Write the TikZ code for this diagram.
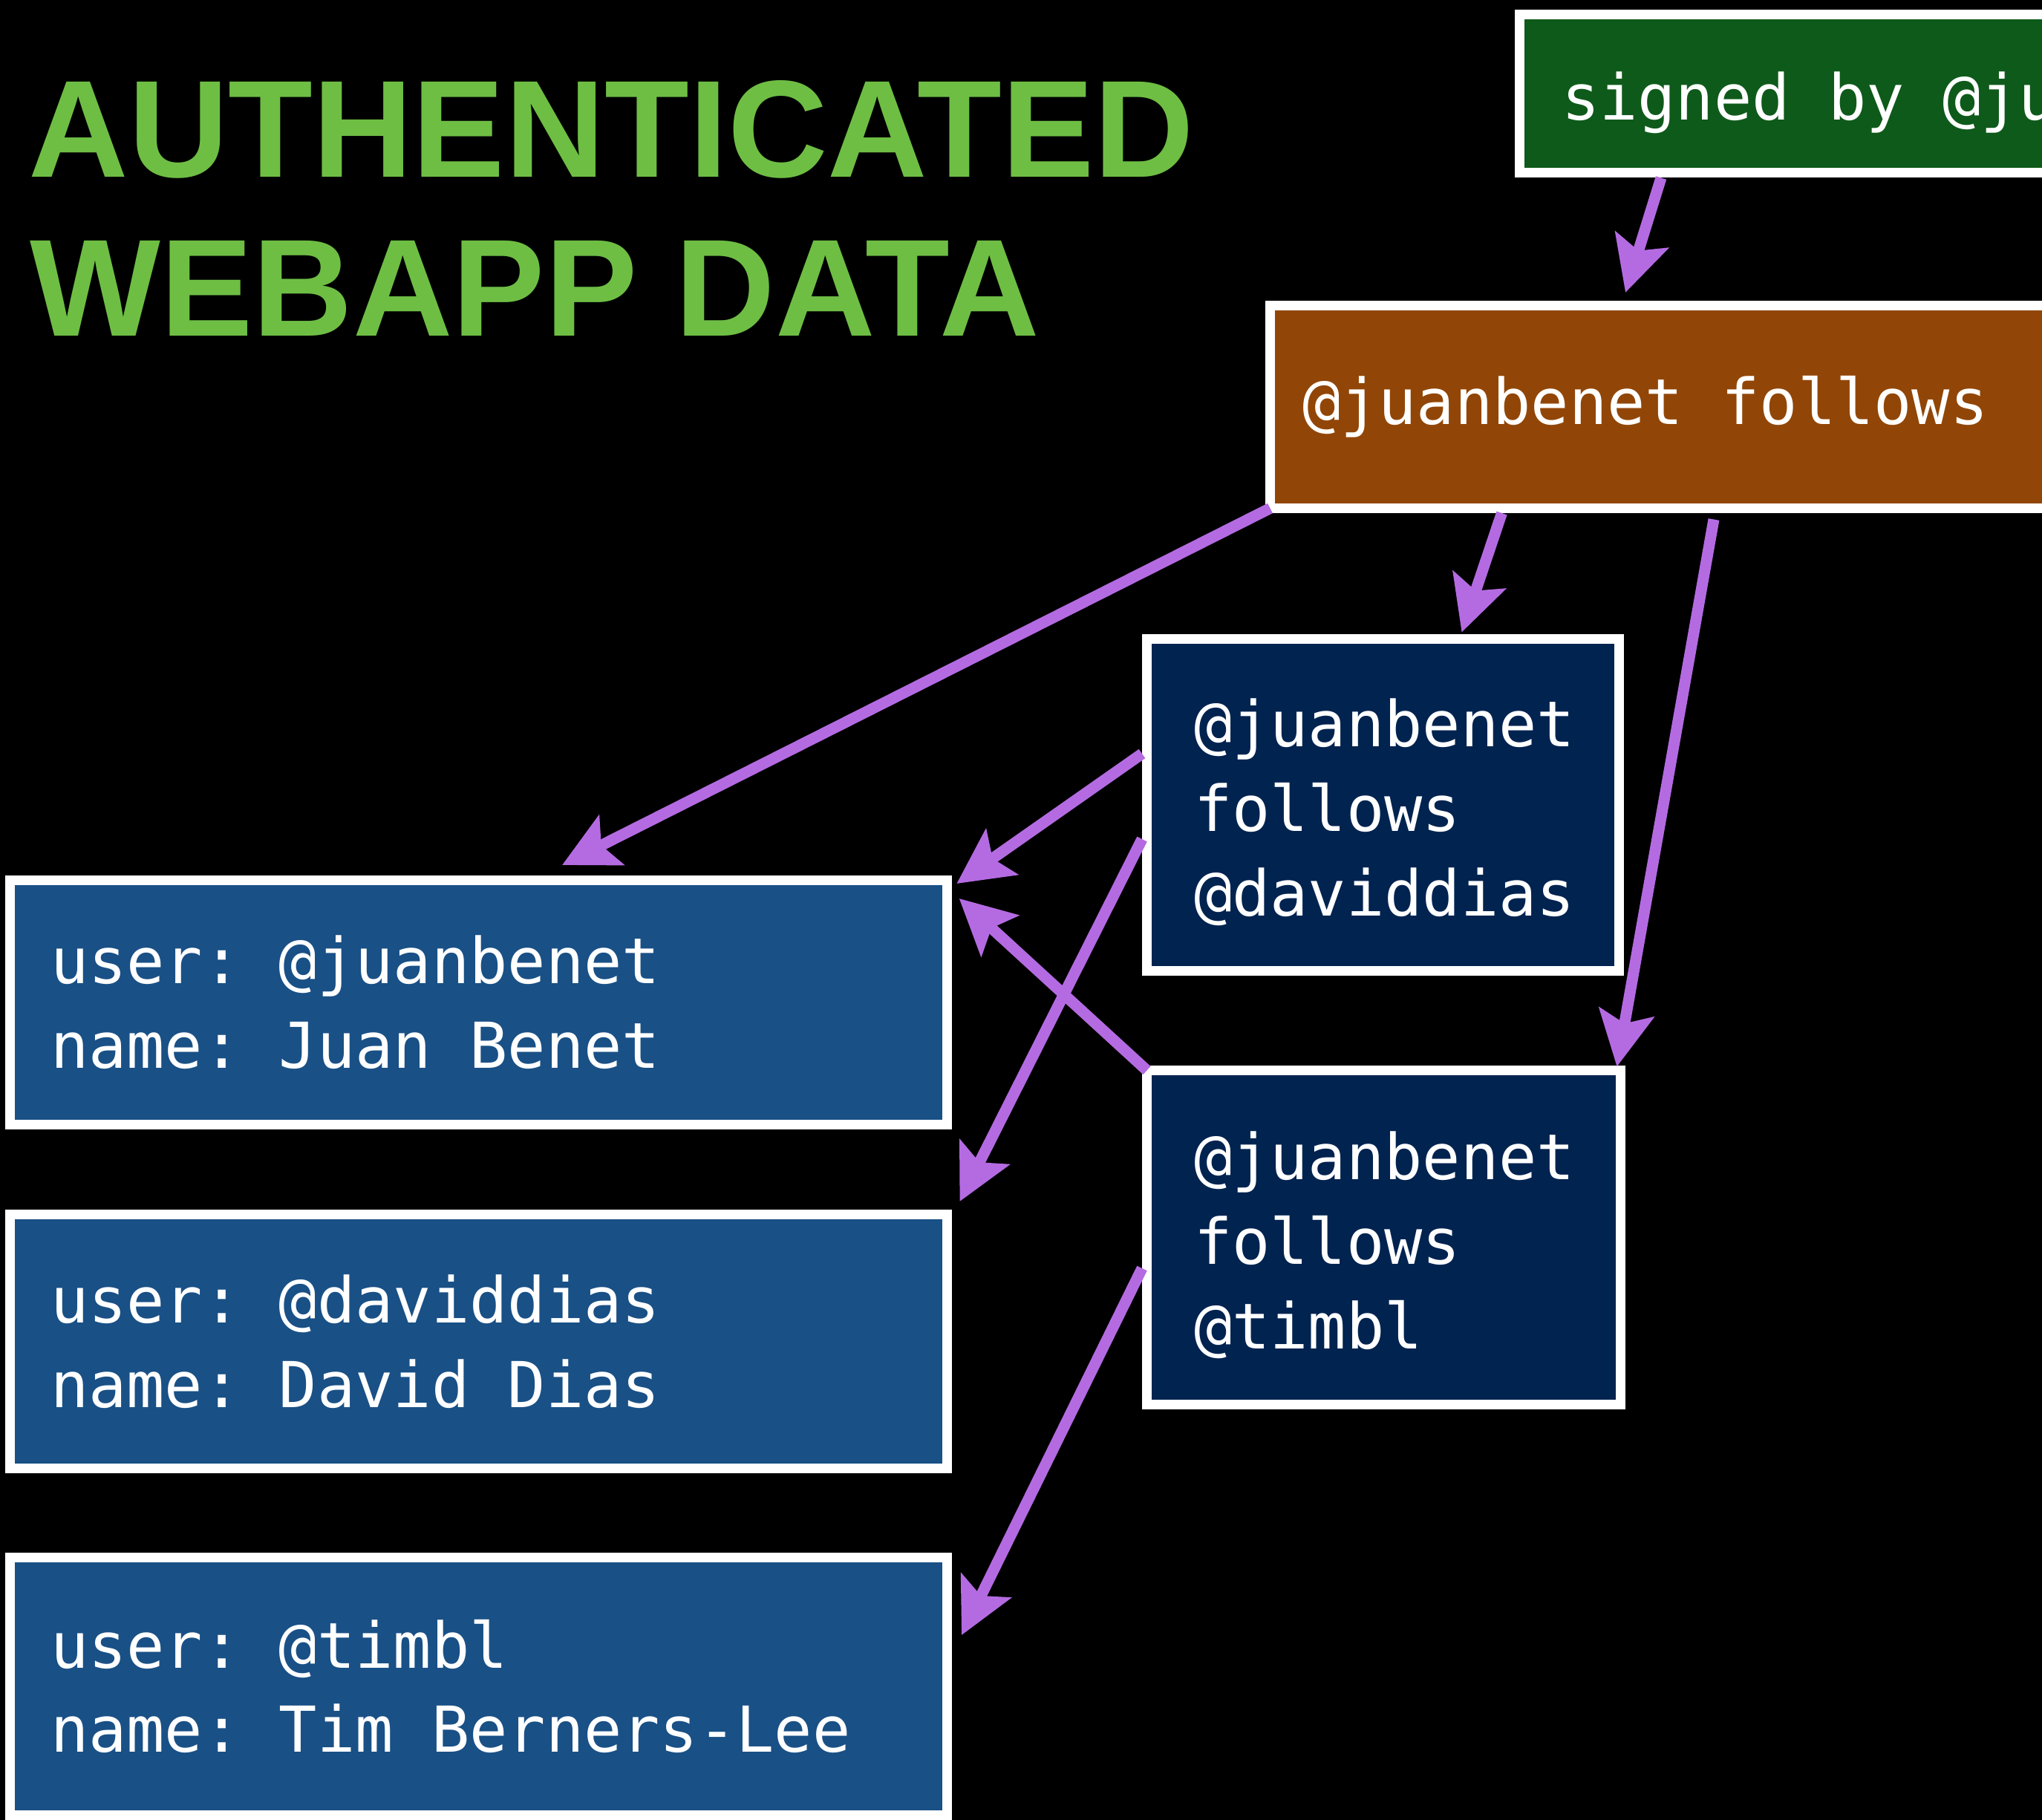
\documentclass[tikz,border=0pt]{standalone}
\usepackage{fontspec}
\newfontfamily\titlefont{Liberation Sans}
\newfontfamily\codefont{DejaVu Sans Mono}
\protected\def\codetext{\codefont\fontsize{24.25pt}{32.4pt}\selectfont}
% one monospace cell, used for the spaces in the code boxes
\newcommand\cellgap{\makebox[0.602em]{}}
\usetikzlibrary{arrows.meta}
\definecolor{titlegreen}{RGB}{110,190,68}
\definecolor{signgreen}{RGB}{14,90,26}
\definecolor{claimbrown}{RGB}{145,70,7}
\definecolor{followblue}{RGB}{1,35,80}
\definecolor{userblue}{RGB}{25,80,134}
\definecolor{linkpurple}{RGB}{180,107,226}

\begin{document}
\begin{tikzpicture}[
  title/.style={anchor=base west, inner sep=0pt, text=titlegreen, font=\titlefont\bfseries\fontsize{53pt}{61pt}\selectfont},
  box/.style={draw=white, line width=1.3mm, anchor=north west, outer sep=0pt, inner ysep=0pt, align=left, text=white, font=\codetext},
  userbox/.style={box, fill=userblue, text width=11.53cm, inner xsep=5.45mm},
  followbox/.style={box, fill=followblue, inner xsep=6.35mm, text height=0.85cm},
  link/.style={draw=linkpurple, line width=1.5mm, -{Stealth[length=7.4mm, width=7.4mm, inset=1.5mm]}}
]
\path[use as bounding box] (0,0) rectangle (27.5,-24.51);
\clip (0,0) rectangle (27.5,-24.51);
\fill[black] (0,0) rectangle (27.5,-24.51);

\node[title] (title1) at (0.38,-2.38) {AUTHENTICATED};
\node[title] (title2) at (0.40,-4.52) {WEBAPP DATA};

\node[box, fill=signgreen, text width=10.87cm, inner xsep=5.65mm, minimum height=2.13cm, text height=0.89cm] (signed) at (20.465,-0.20) {signed\cellgap by\cellgap @juanbenet};
\node[box, fill=claimbrown, text width=11.13cm, inner xsep=4.35mm, minimum height=2.73cm] (claim) at (17.105,-4.115) {@juanbenet\cellgap follows};
\node[followbox, text width=5.09cm, minimum height=4.47cm] (followdavid) at (15.445,-8.605) {@juanbenet\\follows\\@daviddias};
\node[followbox, text width=5.11cm, minimum height=4.50cm] (followtim) at (15.445,-14.415) {@juanbenet\\follows\\@timbl};
\node[userbox, minimum height=3.29cm] (juan) at (0.135,-11.855) {user:\cellgap @juanbenet\\name:\cellgap Juan\cellgap Benet};
\node[userbox, minimum height=3.42cm] (david) at (0.135,-16.355) {user:\cellgap @daviddias\\name:\cellgap David\cellgap Dias};
\node[userbox, minimum height=3.47cm] (tim) at (0.135,-20.975) {user:\cellgap @timbl\\name:\cellgap Tim\cellgap Berners-Lee};

% signature and claim
\draw[link] ([xshift=19.05mm,yshift=-0.65mm]signed.south west) -- ([xshift=47.85mm,yshift=1.75mm]claim.north west);
\draw[link] (claim.south west) -- ([xshift=74.35mm,yshift=2.05mm]juan.north west);
\draw[link] ([xshift=31.2mm,yshift=-0.65mm]claim.south west) -- ([xshift=42.4mm,yshift=0.9mm]followdavid.north west);
\draw[link] ([xshift=59.75mm,yshift=-1.5mm]claim.south west) -- ([xshift=-0.5mm,yshift=0.5mm]followtim.north east);
% follow links to users
\draw[link] ([xshift=-0.65mm,yshift=-15.45mm]followdavid.north west) -- ([xshift=1.28mm,yshift=-0.45mm]juan.north east);
\draw[link] ([xshift=-0.65mm,yshift=-26.95mm]followdavid.north west) -- ([xshift=1.7mm,yshift=1.75mm]david.north east);
\draw[link] (followtim.north west) -- ([xshift=1.62mm,yshift=-2.45mm]juan.north east);
\draw[link] ([xshift=-0.65mm,yshift=-26.65mm]followtim.north west) -- ([xshift=1.95mm,yshift=-10.45mm]tim.north east);
\end{tikzpicture}
\end{document}
